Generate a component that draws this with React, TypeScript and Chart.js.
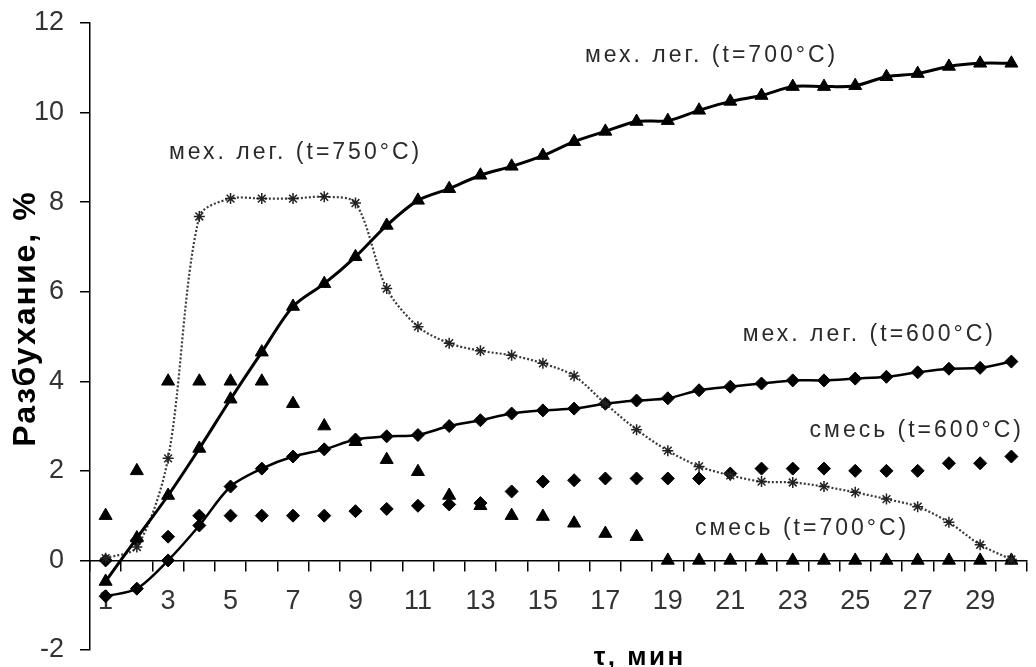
import React, { useEffect, useRef } from "react";
import { Chart, registerables } from "chart.js";

Chart.register(...registerables);

const categories = [
  "1", "2", "3", "4", "5", "6", "7", "8", "9", "10",
  "11", "12", "13", "14", "15", "16", "17", "18", "19", "20",
  "21", "22", "23", "24", "25", "26", "27", "28", "29", "30",
];

const mech700 = [
  -0.47, 0.5, 1.45, 2.5, 3.6, 4.65, 5.67, 6.18, 6.78, 7.48,
  8.04, 8.3, 8.6, 8.8, 9.04, 9.35, 9.58, 9.8, 9.82, 10.05,
  10.25, 10.38, 10.58, 10.58, 10.6, 10.8, 10.87, 11.03, 11.1, 11.1,
];

const mech750 = [
  0.05, 0.3, 2.28, 7.68, 8.08, 8.08, 8.08, 8.12, 7.98, 6.07,
  5.22, 4.85, 4.68, 4.58, 4.4, 4.12, 3.5, 2.92, 2.45, 2.1,
  1.9, 1.76, 1.74, 1.65, 1.52, 1.37, 1.2, 0.85, 0.35, 0.02,
];

const mech600 = [
  -0.8, -0.63, 0.0, 0.78, 1.65, 2.05, 2.32, 2.48, 2.7, 2.77,
  2.8, 3.0, 3.13, 3.28, 3.35, 3.39, 3.5, 3.57, 3.62, 3.8,
  3.88, 3.95, 4.02, 4.02, 4.06, 4.1, 4.2, 4.28, 4.3, 4.44,
];

const mix600 = [
  0.0, 0.45, 0.53, 1.0, 1.0, 1.0, 1.0, 1.0, 1.1, 1.15,
  1.22, 1.25, 1.28, 1.54, 1.76, 1.79, 1.83, 1.83, 1.83, 1.83,
  1.94, 2.05, 2.05, 2.05, 2.0, 2.0, 2.0, 2.17, 2.17, 2.32,
];

const mix700 = [
  1.0, 2.0, 4.0, 4.0, 4.0, 4.0, 3.5, 3.0, 2.65, 2.25,
  1.98, 1.45, 1.22, 1.0, 0.98, 0.83, 0.6, 0.53, 0, 0,
  0, 0, 0, 0, 0, 0, 0, 0, 0, 0,
];

const yTicks = { min: -2, max: 12, step: 2 };

const seriesNames = [
  "мех. лег. (t=700°C)",
  "мех. лег. (t=750°C)",
  "мех. лег. (t=600°C)",
  "смесь (t=600°C)",
  "смесь (t=700°C)",
];

// label anchors in data units: category index (0-based, fractional) and y value
const annotationAt = [6.08, 19.4, 24.45, 25.97, 22.3];
const annotationValue = [9.1, 11.27, 5.05, 2.9, 0.7];
const annotationOrder = [1, 0, 2, 3, 4];

const yTitle = "Разбухание, %";
const xTitle = "τ, мин";

const FONT = '"Liberation Sans", Arial, Helvetica, sans-serif';

const textPlugin = {
  id: "chartTexts",
  afterDraw(chart: any) {
    const { ctx, scales, chartArea } = chart;
    const xs = scales.x;
    const ys = scales.y;
    ctx.save();
    ctx.fillStyle = "#2a2a2a";
    ctx.font = `23px ${FONT}`;
    ctx.letterSpacing = "3px";
    ctx.textAlign = "center";
    ctx.textBaseline = "middle";
    annotationOrder.forEach((si, i) => {
      ctx.fillText(
        seriesNames[si],
        xs.getPixelForValue(annotationAt[i]),
        ys.getPixelForValue(annotationValue[i])
      );
    });

    // x axis title
    ctx.fillStyle = "#000";
    ctx.font = `bold 26px ${FONT}`;
    ctx.letterSpacing = "2.5px";
    ctx.textBaseline = "alphabetic";
    ctx.fillText(xTitle, xs.getPixelForValue(17.1), chartArea.bottom + 15);

    // y axis title
    ctx.font = `bold 32px ${FONT}`;
    ctx.letterSpacing = "2px";
    ctx.textBaseline = "middle";
    ctx.translate(26, ys.getPixelForValue(5.4));
    ctx.rotate(-Math.PI / 2);
    ctx.fillText(yTitle, 0, 0);
    ctx.restore();
  },
};

export default function App() {
  const ref = useRef<HTMLCanvasElement>(null);

  useEffect(() => {
    if (!ref.current) return;
    const black = "#000";
    const chart = new Chart(ref.current, {
      type: "line",
      data: {
        labels: categories,
        datasets: [
          {
            label: seriesNames[0],
            data: mech700,
            borderColor: black,
            borderWidth: 3,
            tension: 0.3,
            pointStyle: "triangle",
            pointRadius: 7.5,
            pointBackgroundColor: black,
            pointBorderColor: black,
            pointBorderWidth: 1,
          },
          {
            label: seriesNames[1],
            data: mech750,
            borderColor: "#3a3a3a",
            borderWidth: 2.2,
            borderDash: [2, 2],
            tension: 0.3,
            pointStyle: "star",
            pointRadius: 5.5,
            pointBackgroundColor: "#222",
            pointBorderColor: "#222",
            pointBorderWidth: 1.5,
          },
          {
            label: seriesNames[2],
            data: mech600,
            borderColor: black,
            borderWidth: 2.5,
            tension: 0.3,
            pointStyle: "rectRot",
            pointRadius: 6.5,
            pointBackgroundColor: black,
            pointBorderColor: black,
            pointBorderWidth: 1,
          },
          {
            label: seriesNames[3],
            data: mix600,
            showLine: false,
            borderColor: black,
            pointStyle: "rectRot",
            pointRadius: 6.5,
            pointBackgroundColor: black,
            pointBorderColor: black,
            pointBorderWidth: 1,
          },
          {
            label: seriesNames[4],
            data: mix700,
            showLine: false,
            borderColor: black,
            pointStyle: "triangle",
            pointRadius: 7.5,
            pointBackgroundColor: black,
            pointBorderColor: black,
            pointBorderWidth: 1,
          },
        ],
      },
      options: {
        animation: false,
        responsive: false,
        events: [],
        layout: { padding: { top: 23, bottom: 17, left: 0, right: 9 } },
        plugins: {
          legend: { display: false },
          tooltip: { enabled: false },
          title: { display: false },
        },
        scales: {
          x: {
            type: "category",
            position: { y: 0 } as any,
            offset: true,
            grid: {
              offset: true,
              drawOnChartArea: false,
              drawTicks: true,
              tickLength: 10,
              color: black,
              lineWidth: 1.5,
            },
            border: { display: true, color: black, width: 1.5 },
            ticks: {
              autoSkip: false,
              maxRotation: 0,
              padding: 15,
              color: "#333",
              font: { family: FONT, size: 27 },
              callback: (_v: any, i: number) =>
                Number(categories[i]) % 2 === 1 ? categories[i] : "",
            },
            afterFit: (scale: any) => {
              scale.paddingLeft = 0;
              scale.paddingRight = 0;
            },
          },
          y: {
            type: "linear",
            position: "left",
            min: yTicks.min,
            max: yTicks.max,
            afterFit: (scale: any) => {
              scale.width = 90;
              scale.paddingTop = 0;
              scale.paddingBottom = 0;
            },
            grid: {
              drawOnChartArea: false,
              drawTicks: true,
              tickLength: 10,
              color: black,
              lineWidth: 1.5,
            },
            border: { display: true, color: black, width: 1.5 },
            ticks: {
              stepSize: yTicks.step,
              padding: 16,
              color: "#333",
              font: { family: FONT, size: 27 },
            },
          },
        },
      },
      plugins: [textPlugin],
    });
    return () => chart.destroy();
  }, []);

  return (
    <div
      style={{
        position: "absolute",
        left: 0,
        top: 0,
        width: 1036,
        height: 667,
        background: "#fff",
      }}
    >
      <canvas ref={ref} width={1036} height={667} style={{ display: "block" }} />
    </div>
  );
}
